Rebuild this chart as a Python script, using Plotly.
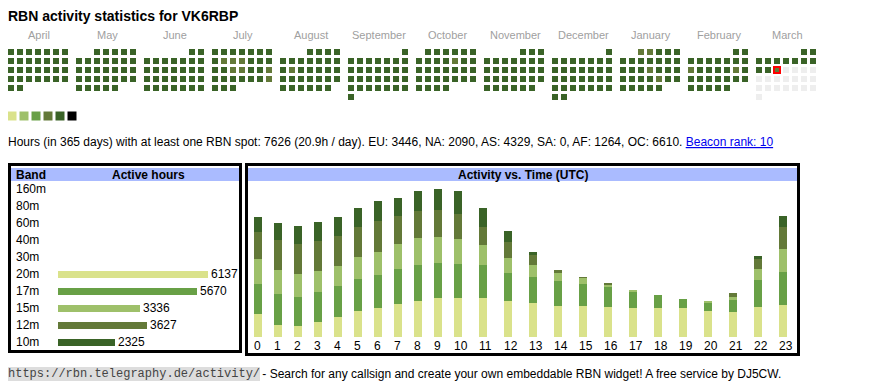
import calendar
from datetime import date
import plotly.graph_objects as go

# ---------------------------------------------------------------- data
CALLSIGN = "VK6RBP"
MONTH_NAMES = ["April", "May", "June", "July", "August", "September",
               "October", "November", "December", "January", "February", "March"]
MONTH_YEARS = [2024, 2024, 2024, 2024, 2024, 2024, 2024, 2024, 2024, 2025, 2025, 2025]
MONTH_NUMS = [4, 5, 6, 7, 8, 9, 10, 11, 12, 1, 2, 3]
TODAY = date(2025, 3, 12)

# daily activity level (1..6) per month, groups of 10 days
LV_APR = "5555555555 5555555555 5555555555"
LV_MAY = "5555555555 5555555555 5555555555 5"
LV_JUN = "5555555555 5555555555 5555555555"
LV_JUL = "5555555544 4555554455 4555555455 5"
LV_AUG = "5555555555 5545555555 5555555555 5"
LV_SEP = "5555555555 5555555555 5555555555"
LV_OCT = "5555555555 4555555555 5555555555 5"
LV_NOV = "5555555555 5555555555 5555555555"
LV_DEC = "5555555555 5555555555 5555555555 5"
LV_JAN = "4455555555 5555545555 5554555555 5"
LV_FEB = "5555555554 5555455555 55555555"
LV_MAR = "5555555555 54"
MONTH_LEVELS = [LV_APR, LV_MAY, LV_JUN, LV_JUL, LV_AUG, LV_SEP,
                LV_OCT, LV_NOV, LV_DEC, LV_JAN, LV_FEB, LV_MAR]

DAYS = 365
TOTAL_HOURS = 7626
REGIONS = ["EU", "NA", "AS", "SA", "AF", "OC"]
REGION_HOURS = [3446, 2090, 4329, 0, 1264, 6610]
BEACON_RANK = 10

BANDS = ["160m", "80m", "60m", "40m", "30m", "20m", "17m", "15m", "12m", "10m"]
BAND_HOURS = [0, 0, 0, 0, 0, 6137, 5670, 3336, 3627, 2325]

HOUR_LABELS = ["0", "1", "2", "3", "4", "5", "6", "7", "8", "9", "10", "11",
               "12", "13", "14", "15", "16", "17", "18", "19", "20", "21", "22", "23"]
H20 = [206, 108, 99, 135, 179, 233, 260, 296, 323, 350, 350, 350,
       323, 305, 278, 278, 269, 260, 260, 260, 233, 224, 269, 287]
H17 = [269, 278, 260, 269, 278, 287, 296, 314, 323, 314, 305, 296,
       251, 233, 224, 197, 179, 144, 117, 81, 72, 108, 242, 296]
H15 = [224, 215, 206, 188, 179, 197, 206, 224, 242, 233, 224, 179,
       135, 108, 72, 54, 27, 18, 0, 0, 9, 27, 99, 206]
H12 = [242, 269, 269, 269, 269, 269, 278, 251, 242, 242, 224, 161,
       144, 90, 27, 9, 9, 0, 0, 0, 0, 36, 90, 197]
H10 = [135, 152, 161, 170, 170, 170, 179, 161, 179, 188, 206, 170,
       99, 27, 0, 0, 0, 0, 0, 0, 0, 0, 27, 99]
HOUR_SERIES = [("20m", H20), ("17m", H17), ("15m", H15), ("12m", H12), ("10m", H10)]

# ---------------------------------------------------------------- style
PAGE_W, PAGE_H, BODY_MARGIN = 870, 390, 8
W, H = PAGE_W - BODY_MARGIN, PAGE_H - BODY_MARGIN   # figure sits inside the page's body margin
FONT = "Liberation Sans, Arial, Helvetica, sans-serif"
MONO = "Liberation Mono, Courier New, monospace"
C_YEL, C_LGR, C_MGR, C_OLV, C_DRK = "#dae28b", "#9ec06a", "#68a046", "#637938", "#3a6327"
LEVEL_COLORS = {1: C_YEL, 2: C_LGR, 3: C_MGR, 4: C_OLV, 5: C_DRK, 6: "#000000"}
FUTURE = "#eeeeee"
BAND_COLORS = {"20m": C_YEL, "17m": C_MGR, "15m": C_LGR, "12m": C_OLV, "10m": C_DRK}
HEAD_BG = "#aabbff"

CAL_X0, CAL_Y0, CELL, PITCH, MONTH_GAP = 8, 49, 6, 9, 5
MONTH_W = 7 * PITCH + MONTH_GAP


def fx(px):   # page x pixel -> paper fraction
    return (px - BODY_MARGIN) / W


def fy(py):   # page y pixel -> paper fraction (bottom-up)
    return (PAGE_H - py) / H


fig = go.Figure()

# ---------------------------------------------------------------- calendar
cx, cy, cc = [], [], []
today_xy = None
for m, (yr, mo, lv) in enumerate(zip(MONTH_YEARS, MONTH_NUMS, MONTH_LEVELS)):
    lv = lv.replace(" ", "")
    first = date(yr, mo, 1).weekday()
    ndays = calendar.monthrange(yr, mo)[1]
    for d in range(1, ndays + 1):
        idx = first + d - 1
        x = CAL_X0 + m * MONTH_W + (idx % 7) * PITCH + CELL / 2
        y = CAL_Y0 + (idx // 7) * PITCH + CELL / 2
        cx.append(x)
        cy.append(y)
        cc.append(LEVEL_COLORS[int(lv[d - 1])] if d <= len(lv) else FUTURE)
        if date(yr, mo, d) == TODAY:
            today_xy = (x, y, LEVEL_COLORS[int(lv[d - 1])])

fig.add_trace(go.Scatter(x=cx, y=cy, mode="markers", xaxis="x", yaxis="y",
                         marker=dict(symbol="square", size=CELL, color=cc, line=dict(width=0)),
                         hoverinfo="skip", showlegend=False))
fig.add_trace(go.Scatter(x=[today_xy[0]], y=[today_xy[1]], mode="markers", xaxis="x", yaxis="y",
                         marker=dict(symbol="square", size=CELL, color=today_xy[2],
                                     line=dict(width=2, color="#ff0000")),
                         hoverinfo="skip", showlegend=False))

# level legend swatches
lev = sorted(LEVEL_COLORS)
fig.add_trace(go.Scatter(x=[CAL_X0 + 4 + 12 * i for i in range(len(lev))], y=[116] * len(lev),
                         mode="markers", xaxis="x", yaxis="y",
                         marker=dict(symbol="square", size=9, color=[LEVEL_COLORS[k] for k in lev]),
                         hoverinfo="skip", showlegend=False))

annotations = []


def txt(text, x, y, size=12, color="#000", xanchor="left", family=FONT, xref="x", yref="y", **kw):
    annotations.append(dict(text=text, x=x, y=y, xref=xref, yref=yref, xanchor=xanchor,
                            yanchor="middle", showarrow=False, borderpad=0, borderwidth=0,
                            font=dict(family=family, size=size, color=color), **kw))


txt(f"<b>RBN activity statistics for {CALLSIGN}</b>", 8, 16, size=14)
for m, name in enumerate(MONTH_NAMES):
    txt(name, CAL_X0 + m * MONTH_W + 31, 35, size=11, color="#a0a0a0", xanchor="center")

reg = ", ".join(f"{r}: {v}" for r, v in zip(REGIONS, REGION_HOURS))
summary = (f"Hours (in {DAYS} days) with at least one RBN spot: {TOTAL_HOURS} "
           f"({TOTAL_HOURS / DAYS:.1f}h / day). {reg}. "
           f"<span style='color:#0000ee'><u>Beacon rank: {BEACON_RANK}</u></span>")
txt(summary, 8, 142)

# ---------------------------------------------------------------- band table
ROW0, ROWH = 189, 17
n = len(BANDS)
y2_top = ROW0 - ROWH / 2
y2_bot = ROW0 + (n - 0.5) * ROWH
fig.add_trace(go.Bar(orientation="h", y=BANDS, x=BAND_HOURS, xaxis="x2", yaxis="y2",
                     width=7 / ROWH,
                     marker=dict(color=[BAND_COLORS.get(b, "#000") for b in BANDS], line=dict(width=0)),
                     text=[str(v) if v else "" for v in BAND_HOURS], textposition="outside",
                     constraintext="none", cliponaxis=False,
                     textfont=dict(family=FONT, size=12, color="#000"),
                     hoverinfo="skip", showlegend=False))
for b in BANDS:
    txt(b, 16, b, yref="y2")

# ---------------------------------------------------------------- hourly chart
col_w = [15 + 5 * len(l) for l in HOUR_LABELS]      # auto table-column widths
col_left = [sum(col_w[:i]) for i in range(len(col_w))]
BAR_PAD, BAR_W = 6, 8
CH_X0, CH_BASE, CH_TOP = 248, 337, 189
totals = [sum(s[1][i] for s in HOUR_SERIES) for i in range(len(HOUR_LABELS))]
for band, vals in HOUR_SERIES:
    fig.add_trace(go.Bar(x=[c + BAR_PAD for c in col_left], y=vals, width=BAR_W, offset=0,
                         xaxis="x3", yaxis="y3", marker=dict(color=BAND_COLORS[band], line=dict(width=0)),
                         name=band, hoverinfo="skip", showlegend=False))
for c, l in zip(col_left, HOUR_LABELS):
    txt(l, c + BAR_PAD, 346, xref="x3", yref="y")

# ---------------------------------------------------------------- frames & headers
shapes = [
    dict(type="rect", xref="x", yref="y", x0=11, x1=239, y0=168, y1=181,
         fillcolor=HEAD_BG, line=dict(width=0), layer="below"),
    dict(type="rect", xref="x", yref="y", x0=248, x1=797, y0=168, y1=181,
         fillcolor=HEAD_BG, line=dict(width=0), layer="below"),
    dict(type="rect", xref="x", yref="y", x0=9.5, x1=240.5, y0=164.5, y1=351.5,
         line=dict(width=3, color="#000"), fillcolor="rgba(0,0,0,0)"),
    dict(type="rect", xref="x", yref="y", x0=246.5, x1=798.5, y0=164.5, y1=354.5,
         line=dict(width=3, color="#000"), fillcolor="rgba(0,0,0,0)"),
]
txt("<b>Band</b>", 16, 174.5)
txt("<b>Active hours</b>", 148, 174.5, xanchor="center")
txt("<b>Activity vs. Time (UTC)</b>", 523, 174.5, xanchor="center")

# ---------------------------------------------------------------- footer
txt("https://rbn.telegraphy.de/activity/", 8, 374, family=MONO, color="#444", bgcolor="#dddddd")
txt(" - Search for any callsign and create your own embeddable RBN widget! A free service by DJ5CW.",
    259, 374)

hid = dict(visible=False, showgrid=False, zeroline=False, fixedrange=True)
fig.update_layout(
    width=W, height=H, margin=dict(l=0, r=0, t=0, b=0),
    paper_bgcolor="#fff", plot_bgcolor="rgba(0,0,0,0)",
    barmode="stack", bargap=0,
    xaxis=dict(domain=[0, 1], range=[BODY_MARGIN, PAGE_W], anchor="y", **hid),
    yaxis=dict(domain=[0, 1], range=[PAGE_H, BODY_MARGIN], anchor="x", **hid),
    xaxis2=dict(domain=[fx(58), fx(208)], range=[0, max(BAND_HOURS)], anchor="y2", **hid),
    yaxis2=dict(domain=[fy(y2_bot), fy(y2_top)], type="category",
                categoryorder="array", categoryarray=BANDS, range=[n - 0.5, -0.5], anchor="x2", **hid),
    xaxis3=dict(domain=[fx(CH_X0), fx(CH_X0 + sum(col_w))], range=[0, sum(col_w)], anchor="y3", **hid),
    yaxis3=dict(domain=[fy(CH_BASE), fy(CH_TOP)], range=[0, max(totals)], anchor="x3", **hid),
    shapes=shapes, annotations=annotations,
)

fig.write_html("out.html", config={"displayModeBar": False})
